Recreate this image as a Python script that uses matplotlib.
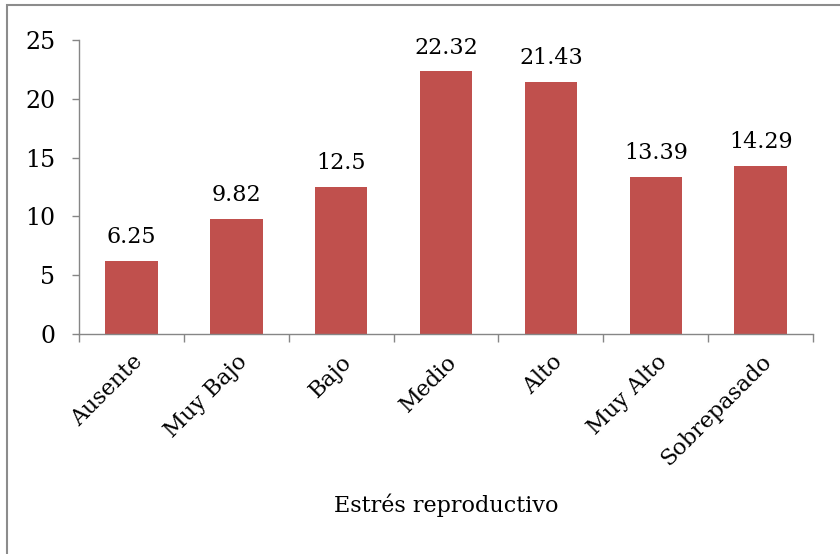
import numpy as np
import matplotlib.pyplot as plt
from matplotlib.patches import Rectangle

categories = ['Ausente', 'Muy Bajo', 'Bajo', 'Medio', 'Alto', 'Muy Alto', 'Sobrepasado']
values = [6.25, 9.82, 12.5, 22.32, 21.43, 13.39, 14.29]
labels = ['6.25', '9.82', '12.5', '22.32', '21.43', '13.39', '14.29']
yticks = [0, 5, 10, 15, 20, 25]

plt.rcParams['font.family'] = ['DejaVu Serif']
FS = 16

#==================================
def DrawFig(outname):
  fig = plt.figure(figsize=(8.4, 5.54), dpi=100)
  ax = fig.add_axes([0.094, 0.397, 0.874, 0.531])

  # chart frame (left and top edges visible)
  fig.patches.append(Rectangle((7/840, -0.1), 1.2, 1 - 5/554 + 0.1,
                               transform=fig.transFigure, fill=False,
                               edgecolor='#8c8c8c', linewidth=1.5))

  x = np.arange(len(categories))
  ax.bar(x, values, width=0.5, color='#C0504D', zorder=2)
  for xi, v, lab in zip(x, values, labels):
    ax.annotate(lab, (xi, v), xytext=(0, 9), textcoords='offset points',
                ha='center', va='bottom', fontsize=FS)

  ax.set_xlim(-0.5, len(categories) - 0.5)
  ax.set_ylim(0, 25)
  ax.set_yticks(yticks)
  ax.set_yticklabels([str(t) for t in yticks], fontsize=17)
  ax.tick_params(axis='y', direction='out', length=5, width=1, color='#868686', pad=12)

  ax.set_xticks(x)
  ax.set_xticklabels(categories, rotation=45, ha='right', rotation_mode='anchor', fontsize=FS)
  ax.tick_params(axis='x', which='major', length=0, pad=12)
  ax.set_xticks(np.arange(len(categories) + 1) - 0.5, minor=True)
  ax.tick_params(axis='x', which='minor', direction='out', length=6, width=1, color='#868686')

  for s in ['top', 'right']:
    ax.spines[s].set_visible(False)
  for s in ['left', 'bottom']:
    ax.spines[s].set_color('#868686')
    ax.spines[s].set_linewidth(1)

  fig.text(0.531, 1 - 505/554, 'Estrés reproductivo', ha='center', va='center', fontsize=FS)
  plt.savefig(outname)
  return

#==================================
def main():
  DrawFig('out.png')
  return

if __name__ == '__main__':
  main()
